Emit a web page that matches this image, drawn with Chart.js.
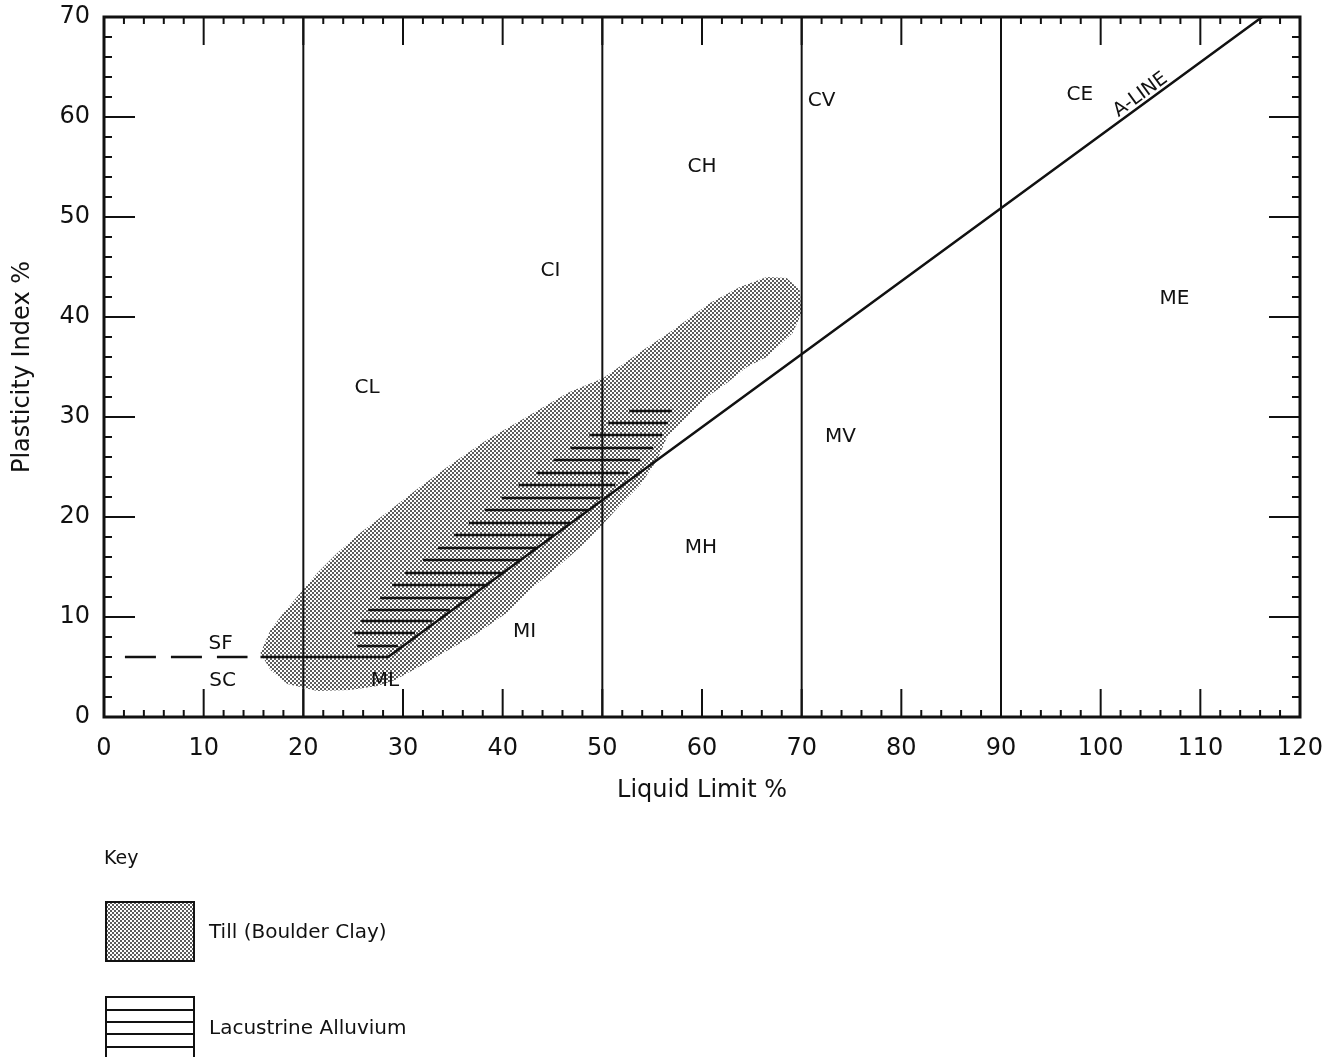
<!DOCTYPE html>
<html>
<head>
<meta charset="utf-8">
<script src="https://cdn.jsdelivr.net/npm/chart.js@4.4.1/dist/chart.umd.min.js"></script>
<style>
  html, body { margin: 0; padding: 0; background: #fff; }
  #page { position: relative; width: 1339px; height: 1057px; overflow: hidden; }
  #wrap { position: absolute; left: 0; top: 0; width: 1339px; height: 1057px; }
  .txt { position: absolute; font-family: "DejaVu Sans", sans-serif; color: #111; white-space: nowrap; }
  .swatch { position: absolute; }
</style>
</head>
<body>
<div id="page">
  <div id="wrap"><canvas id="plasticityChart"></canvas></div>
  <div class="txt" style="left:104px; top:846px; font-size:19px;">Key</div>
  <canvas class="swatch" id="keyTill" width="92" height="63" style="left:104px; top:900px;"></canvas>
  <div class="txt" style="left:209px; top:919px; font-size:20px;">Till (Boulder Clay)</div>
  <canvas class="swatch" id="keyLac" width="92" height="62" style="left:104px; top:995px;"></canvas>
  <div class="txt" style="left:209px; top:1015px; font-size:20px;">Lacustrine Alluvium</div>
</div>
<script>
// axes
const llTicks = [0, 10, 20, 30, 40, 50, 60, 70, 80, 90, 100, 110, 120];
const piTicks = [0, 10, 20, 30, 40, 50, 60, 70];

// classification boundaries (liquid limit)
const boundaryLL = [20, 50, 70, 90];

// A-line, solid part and dashed extension
const aLineLL = [15.7, 28.5, 116.2];
const aLinePI = [6, 6, 70];
const aDashLL = [2.1, 14.4];
const aDashPI = [6, 6];

// Till (Boulder Clay) envelope
const tillLL = [15.7, 16.7, 18.0, 19.7, 21.4, 23.4, 25.7, 27.4, 31.7, 35.0, 38.4, 42.4, 46.5, 50.1, 54.1, 57.1,
  60.8, 63.8, 66.5, 68.5, 69.8, 70.0, 69.1, 66.5, 64.5, 62.5, 60.5, 58.5, 56.5, 55.5, 53.8, 51.8, 49.8, 47.8,
  45.5, 42.7, 40.4, 37.2, 34.2, 31.4, 29.2, 27.4, 24.7, 21.4, 18.4, 16.7, 15.7];
const tillPI = [6.4, 8.7, 10.4, 12.4, 14.4, 16.4, 18.4, 19.7, 23.0, 25.4, 27.7, 30.0, 32.4, 33.9, 36.7, 38.7,
  41.4, 43.0, 44.0, 43.9, 42.7, 40.4, 38.4, 36.0, 35.0, 33.4, 32.0, 30.0, 28.0, 25.7, 23.2, 21.2, 19.0, 17.0,
  15.0, 12.7, 10.4, 8.2, 6.5, 4.9, 3.7, 3.1, 2.7, 2.6, 3.3, 4.7, 6.4];

// Lacustrine Alluvium hatching
const hatchPI = [30.6, 29.4, 28.2, 26.9, 25.7, 24.4, 23.2, 21.9, 20.7, 19.4, 18.2, 16.9, 15.7, 14.4, 13.2, 11.9, 10.7, 9.6, 8.4, 7.1];
const hatchFrom = [52.7, 50.6, 48.7, 46.8, 45.1, 43.4, 41.6, 39.9, 38.2, 36.6, 35.1, 33.5, 32.0, 30.2, 28.9, 27.7, 26.5, 25.8, 25.1, 25.4];
const hatchTo = [57.0, 56.6, 56.0, 55.1, 53.8, 52.6, 51.3, 49.8, 48.6, 46.8, 45.1, 43.4, 41.7, 40.0, 38.5, 36.7, 34.7, 32.9, 31.2, 29.5];

// zone labels
const zoneNames = ['CL', 'CI', 'CH', 'CV', 'CE', 'ME', 'MV', 'MH', 'MI', 'ML', 'SF', 'SC'];
const zoneLL = [26.4, 44.8, 60.0, 72.0, 97.9, 107.4, 73.9, 59.9, 42.2, 28.2, 11.7, 11.9];
const zonePI = [32.9, 44.6, 55.0, 61.6, 62.2, 41.8, 28.0, 16.9, 8.5, 3.6, 7.3, 3.6];

const FONT = '"DejaVu Sans", sans-serif';
const INK = '#111';

function makeStipple() {
    const c = document.createElement('canvas');
    c.width = 4;
    c.height = 4;
    const g = c.getContext('2d');
    g.fillStyle = 'rgba(0, 0, 0, 0.85)';
    [[1, 1], [3, 3]].forEach(function (d) {
        g.beginPath();
        g.arc(d[0], d[1], 1, 0, Math.PI * 2);
        g.fill();
    });
    return g.createPattern(c, 'repeat');
}

function pts(xs, ys) {
    return xs.map(function (x, i) { return { x: x, y: ys[i] }; });
}

function lineSet(data, width, extra) {
    return Object.assign({
        data: data,
        showLine: true,
        borderColor: INK,
        borderWidth: width,
        pointRadius: 0,
        pointHoverRadius: 0,
        fill: false
    }, extra || {});
}

// chart area is pinned; label overhang must not push it inwards
function noOverhang(s) {
    s.paddingTop = 0;
    s.paddingBottom = 0;
    s.paddingLeft = 0;
    s.paddingRight = 0;
}

const stipple = makeStipple();

const datasets = [
    lineSet(pts(aLineLL, aLinePI), 2.5),
    lineSet(pts(aDashLL, aDashPI), 2.5, { borderDash: [31, 15] })
];
boundaryLL.forEach(function (ll) {
    datasets.push(lineSet([{ x: ll, y: 0 }, { x: ll, y: 70 }], 2));
});
hatchPI.forEach(function (pi, i) {
    datasets.push(lineSet([{ x: hatchFrom[i], y: pi }, { x: hatchTo[i], y: pi }], 2.5));
});
datasets.push(lineSet(pts(tillLL, tillPI), 0, { fill: 'shape', backgroundColor: stipple, borderColor: 'rgba(0,0,0,0)' }));

// frame, inward ticks and zone labels
const framePlugin = {
    id: 'framePlugin',
    afterDatasetsDraw: function (chart) {
        const ctx = chart.ctx;
        const a = chart.chartArea;
        const x = chart.scales.x;
        const y = chart.scales.y;

        function seg(x1, y1, x2, y2) {
            ctx.beginPath();
            ctx.moveTo(x1, y1);
            ctx.lineTo(x2, y2);
            ctx.stroke();
        }

        ctx.save();
        ctx.strokeStyle = INK;
        ctx.lineWidth = 2;
        for (let v = 2; v < 120; v += 2) {
            const px = x.getPixelForValue(v);
            const len = v % 10 === 0 ? 28 : 7;
            seg(px, a.bottom, px, a.bottom - len);
            seg(px, a.top, px, a.top + len);
        }
        for (let v = 2; v < 70; v += 2) {
            const py = y.getPixelForValue(v);
            const len = v % 10 === 0 ? 31 : 8;
            seg(a.left, py, a.left + len, py);
            seg(a.right, py, a.right - len, py);
        }
        ctx.lineWidth = 3;
        ctx.strokeRect(a.left, a.top, a.right - a.left, a.bottom - a.top);

        ctx.fillStyle = INK;
        ctx.font = '20px ' + FONT;
        ctx.textAlign = 'center';
        ctx.textBaseline = 'middle';
        zoneNames.forEach(function (name, i) {
            ctx.fillText(name, x.getPixelForValue(zoneLL[i]), y.getPixelForValue(zonePI[i]));
        });

        // A-LINE label follows the line
        const p0 = { x: x.getPixelForValue(aLineLL[1]), y: y.getPixelForValue(aLinePI[1]) };
        const p1 = { x: x.getPixelForValue(aLineLL[2]), y: y.getPixelForValue(aLinePI[2]) };
        const ang = Math.atan2(p1.y - p0.y, p1.x - p0.x);
        ctx.translate(x.getPixelForValue(104.0), y.getPixelForValue(62.2));
        ctx.rotate(ang);
        ctx.font = '19px ' + FONT;
        ctx.fillText('A-LINE', 0, 0);
        ctx.restore();
    }
};

new Chart(document.getElementById('plasticityChart').getContext('2d'), {
    type: 'scatter',
    data: { datasets: datasets },
    options: {
        responsive: true,
        maintainAspectRatio: false,
        animation: false,
        layout: { padding: { top: 17, right: 39, left: 0, bottom: 240 } },
        plugins: {
            legend: { display: false },
            tooltip: { enabled: false }
        },
        scales: {
            x: {
                type: 'linear',
                min: 0,
                max: 120,
                afterBuildTicks: function (s) { s.ticks = llTicks.map(function (v) { return { value: v }; }); },
                afterFit: function (s) { s.height = 100; noOverhang(s); },
                grid: { display: false, drawTicks: false },
                border: { display: false },
                ticks: { color: INK, padding: 17, autoSkip: false, maxRotation: 0, font: { family: FONT, size: 24 } },
                title: { display: true, text: 'Liquid Limit %', color: INK, padding: { top: 0, bottom: 12 }, font: { family: FONT, size: 24 } }
            },
            y: {
                type: 'linear',
                min: 0,
                max: 70,
                afterBuildTicks: function (s) { s.ticks = piTicks.map(function (v) { return { value: v }; }); },
                afterFit: function (s) { s.width = 104; noOverhang(s); },
                grid: { display: false, drawTicks: false },
                border: { display: false },
                ticks: { color: INK, padding: 14, font: { family: FONT, size: 24 } },
                title: { display: true, text: 'Plasticity Index %', color: INK, padding: { top: 8, bottom: 0 }, font: { family: FONT, size: 24 } }
            }
        }
    },
    plugins: [framePlugin]
});

// key swatches
(function () {
    const t = document.getElementById('keyTill').getContext('2d');
    t.fillStyle = '#fff';
    t.fillRect(0, 0, 92, 63);
    t.fillStyle = makeStipple();
    t.fillRect(2, 2, 88, 59);
    t.strokeStyle = INK;
    t.lineWidth = 2;
    t.strokeRect(2, 2, 88, 59);

    const l = document.getElementById('keyLac').getContext('2d');
    l.strokeStyle = INK;
    l.lineWidth = 2;
    l.strokeRect(2, 2, 88, 62);
    [15, 27, 39, 52].forEach(function (yy) {
        l.beginPath();
        l.moveTo(2, yy);
        l.lineTo(90, yy);
        l.stroke();
    });
})();
</script>
</body>
</html>
